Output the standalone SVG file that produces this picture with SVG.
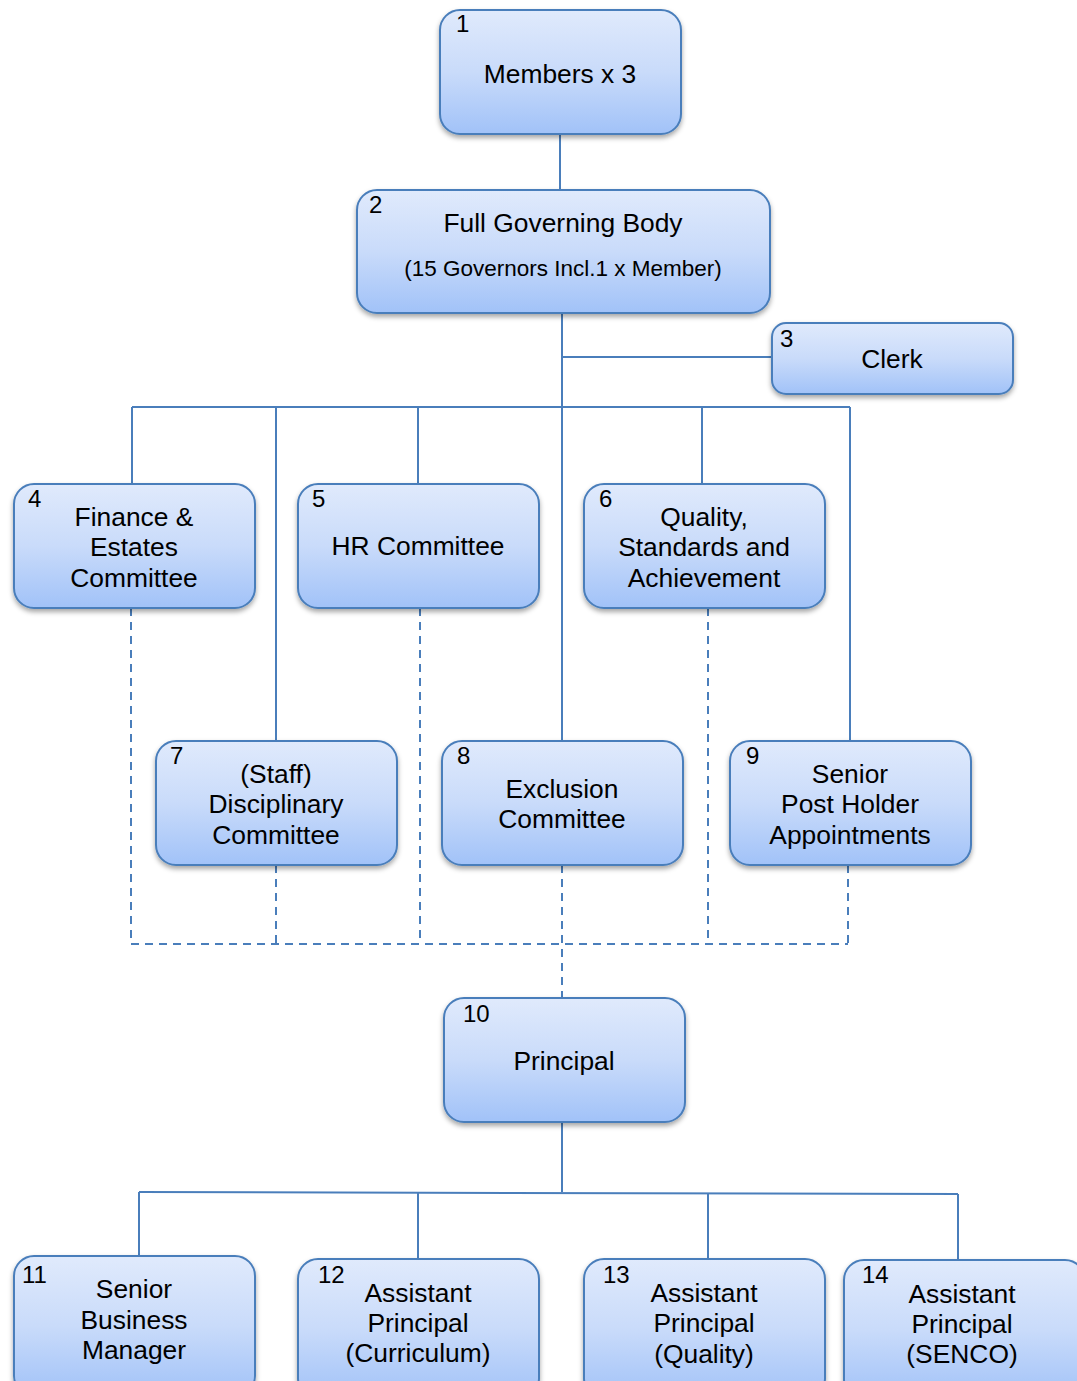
<svg xmlns="http://www.w3.org/2000/svg" width="1077" height="1381" viewBox="0 0 1077 1381">
<defs>
<linearGradient id="g" x1="0" y1="0" x2="0" y2="1">
<stop offset="0" stop-color="#e0eafc"/>
<stop offset="0.5" stop-color="#c9dbfa"/>
<stop offset="1" stop-color="#a1c2f8"/>
</linearGradient>
<filter id="sh" x="-10%" y="-10%" width="120%" height="130%">
<feDropShadow dx="0" dy="3" stdDeviation="2.5" flood-color="#000" flood-opacity="0.35"/>
</filter>
</defs>
<style>
.box{fill:url(#g);stroke:#4a7ebb;stroke-width:2;filter:url(#sh)}
.ln{fill:none;stroke:#4a7ebb;stroke-width:2}
.dash{fill:none;stroke:#4a7ebb;stroke-width:2;stroke-dasharray:8 6}
text{font-family:"Liberation Sans",Arial,sans-serif;fill:#000}
.n{font-size:24px}
.t{font-size:26.4px;text-anchor:middle}
.s{font-size:22.5px;text-anchor:middle}
</style>
<rect width="1077" height="1381" fill="#fff"/>
<g id="connectors">
<path class="ln" d="M560 134V190"/>
<path class="ln" d="M562 313V741"/>
<path class="ln" d="M562 357H772"/>
<path class="ln" d="M132 407H850"/>
<path class="ln" d="M132 407V484M276 407V741M418 407V484M702 407V484M850 407V741"/>
<path class="dash" d="M131 608V944M420 608V944M708 608V944"/>
<path class="dash" d="M276 865V944M848 865V944M562 865V998"/>
<path class="dash" d="M131 944H848"/>
<path class="ln" d="M562 1122V1192"/>
<path class="ln" d="M139 1192L958 1194"/>
<path class="ln" d="M139 1192V1256M418 1192V1259M708 1193V1259M958 1194V1260"/>
</g>
<g id="node1"><rect class="box" x="440" y="10" width="241" height="124" rx="20"/><text class="n" x="456" y="32">1</text><text class="t" x="560" y="83">Members x 3</text></g>
<g id="node2"><rect class="box" x="357" y="190" width="413" height="123" rx="20"/><text class="n" x="369" y="213">2</text><text class="t" x="563" y="232">Full Governing Body</text><text class="s" x="563" y="276">(15 Governors Incl.1 x Member)</text></g>
<g id="node3"><rect class="box" x="772" y="323" width="241" height="71" rx="14"/><text class="n" x="780" y="347">3</text><text class="t" x="892" y="368">Clerk</text></g>
<g id="node4"><rect class="box" x="14" y="484" width="241" height="124" rx="20"/><text class="n" x="28" y="507">4</text><text class="t" x="134" y="526">Finance &amp;</text><text class="t" x="134" y="556">Estates</text><text class="t" x="134" y="587">Committee</text></g>
<g id="node5"><rect class="box" x="298" y="484" width="241" height="124" rx="20"/><text class="n" x="312" y="507">5</text><text class="t" x="418" y="555">HR Committee</text></g>
<g id="node6"><rect class="box" x="584" y="484" width="241" height="124" rx="20"/><text class="n" x="599" y="507">6</text><text class="t" x="704" y="526">Quality,</text><text class="t" x="704" y="556">Standards and</text><text class="t" x="704" y="587">Achievement</text></g>
<g id="node7"><rect class="box" x="156" y="741" width="241" height="124" rx="20"/><text class="n" x="170" y="764">7</text><text class="t" x="276" y="783">(Staff)</text><text class="t" x="276" y="813">Disciplinary</text><text class="t" x="276" y="844">Committee</text></g>
<g id="node8"><rect class="box" x="442" y="741" width="241" height="124" rx="20"/><text class="n" x="457" y="764">8</text><text class="t" x="562" y="798">Exclusion</text><text class="t" x="562" y="828">Committee</text></g>
<g id="node9"><rect class="box" x="730" y="741" width="241" height="124" rx="20"/><text class="n" x="746" y="764">9</text><text class="t" x="850" y="783">Senior</text><text class="t" x="850" y="813">Post Holder</text><text class="t" x="850" y="844">Appointments</text></g>
<g id="node10"><rect class="box" x="444" y="998" width="241" height="124" rx="20"/><text class="n" x="463" y="1022">10</text><text class="t" x="564" y="1070">Principal</text></g>
<g id="node11"><rect class="box" x="14" y="1256" width="241" height="140" rx="20"/><text class="n" x="22" y="1283">11</text><text class="t" x="134" y="1298">Senior</text><text class="t" x="134" y="1329">Business</text><text class="t" x="134" y="1359">Manager</text></g>
<g id="node12"><rect class="box" x="298" y="1259" width="241" height="140" rx="20"/><text class="n" x="318" y="1283">12</text><text class="t" x="418" y="1302">Assistant</text><text class="t" x="418" y="1332">Principal</text><text class="t" x="418" y="1362">(Curriculum)</text></g>
<g id="node13"><rect class="box" x="584" y="1259" width="241" height="140" rx="20"/><text class="n" x="603" y="1283">13</text><text class="t" x="704" y="1302">Assistant</text><text class="t" x="704" y="1332">Principal</text><text class="t" x="704" y="1363">(Quality)</text></g>
<g id="node14"><rect class="box" x="844" y="1260" width="241" height="140" rx="20"/><text class="n" x="862" y="1283">14</text><text class="t" x="962" y="1303">Assistant</text><text class="t" x="962" y="1333">Principal</text><text class="t" x="962" y="1363">(SENCO)</text></g>
</svg>
